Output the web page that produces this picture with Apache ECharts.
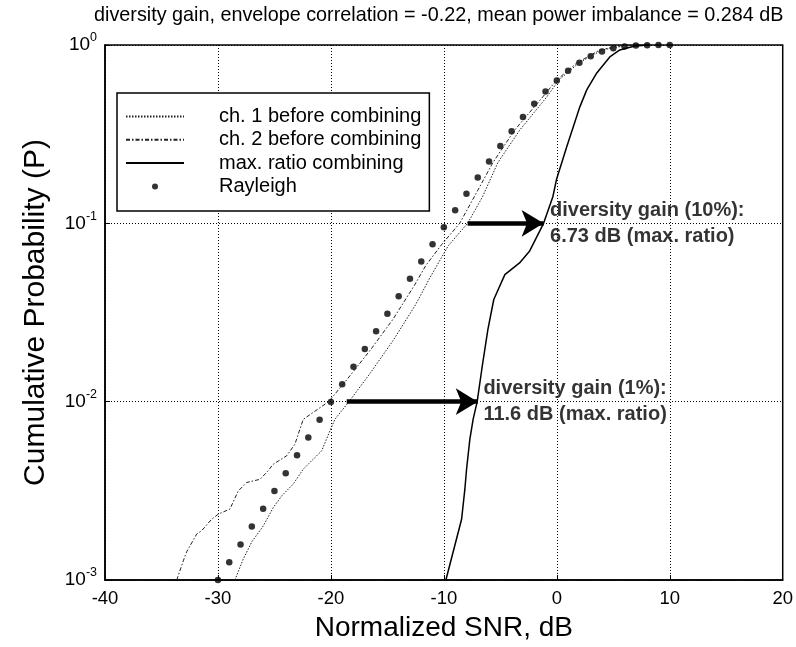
<!DOCTYPE html>
<html><head><meta charset="utf-8">
<script src="https://cdn.jsdelivr.net/npm/echarts@6/dist/echarts.min.js"></script>
<style>html,body{margin:0;padding:0;background:#fff}#c{width:796px;height:647px}</style>
</head><body><div id="c"></div>
<script>
// ---- data ----
const titleText = 'diversity gain, envelope correlation = -0.22, mean power imbalance = 0.284 dB';
const xTicks = [-40, -30, -20, -10, 0, 10, 20];
const yTicks = [0.001, 0.01, 0.1, 1];

const ch1X = [-28.5,-27.76,-27.02,-25.99,-25.1,-24.36,-23.34,-22.45,-21.71,-20.82,-20.09,-19.65,-18.4,-16.5,-14.5,-12.5,-11.2,-9.6,-7.9,-6.6,-5.22,-3.27,-0.88,0.18,1.95,4.0,6.0,7.8];
const ch1P = [0.001,0.00131,0.00163,0.00201,0.00255,0.00296,0.00345,0.00418,0.00466,0.0053,0.00685,0.00796,0.01,0.0145,0.022,0.035,0.05,0.075,0.1,0.14,0.219,0.334,0.512,0.637,0.793,0.938,0.99,1.0];

const ch2X = [-33.65,-33.07,-32.77,-31.88,-31.44,-30.56,-29.97,-28.94,-28.2,-27.46,-26.28,-25.69,-25.1,-23.92,-23.19,-22.45,-20.2,-18.5,-16.5,-14.5,-12.6,-11.6,-10.2,-8.6,-7.2,-5.66,-3.72,-1.24,0.0,1.77,3.8,5.6,7.3];
const ch2P = [0.001,0.00128,0.00144,0.00181,0.00189,0.00219,0.00234,0.0025,0.00316,0.00352,0.00367,0.00401,0.00446,0.00497,0.00577,0.00796,0.01,0.0135,0.0195,0.029,0.045,0.058,0.076,0.1,0.145,0.219,0.334,0.512,0.637,0.793,0.938,0.99,1.0];

const mrcX = [-9.82,-8.43,-8.14,-7.99,-7.7,-7.41,-7.05,-6.64,-6.1,-5.58,-4.6,-3.3,-2.4,-1.17,-0.35,-0.03,0.88,2.04,2.65,3.54,4.69,5.58,6.9,8.2];
const mrcP = [0.001,0.00219,0.00323,0.00418,0.00615,0.00796,0.01,0.0152,0.0254,0.0374,0.0516,0.06,0.07,0.1,0.141,0.176,0.269,0.45,0.56,0.697,0.857,0.938,0.987,1.0];

const rayX = [-30,-29,-28,-27,-26,-25,-24,-23,-22,-21,-20,-19,-18,-17,-16,-15,-14,-13,-12,-11,-10,-9,-8,-7,-6,-5,-4,-3,-2,-1,0,1,2,3,4,5,6,7,8,9,10];
const rayP = [0.001,0.001258,0.001584,0.001993,0.002509,0.003157,0.003973,0.005,0.00629,0.007912,0.00995,0.01251,0.01572,0.01975,0.02481,0.03113,0.03903,0.04888,0.06115,0.07636,0.09516,0.1183,0.1466,0.1809,0.2221,0.2711,0.3284,0.3942,0.4679,0.5481,0.6321,0.7161,0.795,0.864,0.9189,0.9577,0.9813,0.9933,0.9982,0.99965,0.99995];

const seriesNames = ['ch. 1 before combining','ch. 2 before combining','max. ratio combining','Rayleigh'];

// annotations: level, arrow start (dB), gain (dB), text anchor x (dB), texts
const gainLevels = [0.1, 0.01];
const gainStart = [-7.9, -18.6];
const gainValue = [6.73, 11.6];
const gainTextX = [-0.6, -6.5];
const gainText = ['diversity gain (10%):\n6.73 dB (max. ratio)', 'diversity gain (1%):\n11.6 dB (max. ratio)'];

// ---- chart ----
const FONT = "'Liberation Sans', Arial, Helvetica, sans-serif";
const zip = (a, b) => a.map((v, i) => [v, b[i]]);
const chart = echarts.init(document.getElementById('c'), null, {renderer: 'canvas'});

const arrowLines = gainLevels.map((lv, i) => [
  {coord: [gainStart[i], lv]},
  {coord: [gainStart[i] + gainValue[i], lv]}
]);

const hideSym = {opacity: 0};

chart.setOption({
  animation: false,
  backgroundColor: '#fff',
  textStyle: {fontFamily: FONT, color: '#000'},
  title: {
    text: titleText, left: 89, top: 1,
    textStyle: {fontFamily: FONT, fontSize: 19.8, fontWeight: 'normal', color: '#000'}
  },
  grid: {left: 105, right: 13, top: 45, bottom: 66, show: true, borderColor: '#000', borderWidth: 1.5, backgroundColor: 'transparent'},
  legend: {
    data: [
      {name: seriesNames[0], itemStyle: hideSym},
      {name: seriesNames[1], itemStyle: hideSym},
      {name: seriesNames[2], itemStyle: hideSym},
      {name: seriesNames[3], icon: 'path://M0,0M58,14M26,7a3,3 0 1,0 6,0a3,3 0 1,0 -6,0Z'}
    ],
    orient: 'vertical', left: 117, top: 93,
    itemWidth: 58, itemHeight: 14, itemGap: 0.3,
    padding: [12, 8, 13, 8],
    backgroundColor: '#fff', borderColor: '#000', borderWidth: 1.5, borderRadius: 0,
    textStyle: {fontFamily: FONT, fontSize: 20, color: '#000', lineHeight: 23, padding: [0, 0, 0, 30]},
    selectedMode: false
  },
  xAxis: {
    type: 'value', min: -40, max: 20, interval: 10,
    name: 'Normalized SNR, dB', nameLocation: 'middle', nameGap: 34,
    nameTextStyle: {fontFamily: FONT, fontSize: 28, color: '#000'},
    axisLine: {onZero: false, lineStyle: {color: '#000', width: 1.5}},
    axisTick: {inside: true, length: 5, lineStyle: {color: '#000'}},
    axisLabel: {fontFamily: FONT, fontSize: 18.5, color: '#000', margin: 9},
    splitLine: {show: true, lineStyle: {color: '#000', type: [1, 2], width: 1}}
  },
  yAxis: {
    type: 'log', logBase: 10, min: yTicks[0], max: yTicks[yTicks.length - 1],
    name: 'Cumulative Probability (P)', nameLocation: 'middle', nameGap: 54,
    nameTextStyle: {fontFamily: FONT, fontSize: 30, color: '#000'},
    axisLine: {onZero: false, lineStyle: {color: '#000', width: 1.5}},
    axisTick: {inside: true, length: 5, lineStyle: {color: '#000'}},
    axisLabel: {
      margin: 8, color: '#000',
      formatter: v => '{b|10}{s|' + Math.round(Math.log10(v)) + '}',
      rich: {
        b: {fontFamily: FONT, fontSize: 19, color: '#000'},
        s: {fontFamily: FONT, fontSize: 12.5, color: '#000', padding: [0, 0, 14, 0]}
      }
    },
    minorTick: {show: false},
    splitLine: {show: true, lineStyle: {color: '#000', type: [1, 2], width: 1}}
  },
  series: [
    {name: seriesNames[0], type: 'line', data: zip(ch1X, ch1P), showSymbol: false, symbol: 'none',
     lineStyle: {color: '#222', width: 1, type: [1.5, 1.5]}, itemStyle: {color: '#222'}},
    {name: seriesNames[1], type: 'line', data: zip(ch2X, ch2P), showSymbol: false, symbol: 'none',
     lineStyle: {color: '#222', width: 1, type: [4, 2, 1.5, 2]}, itemStyle: {color: '#222'}},
    {name: seriesNames[2], type: 'line', data: zip(mrcX, mrcP), showSymbol: false, symbol: 'none',
     lineStyle: {color: '#000', width: 1.5, type: 'solid'}, itemStyle: {color: '#000'}},
    {name: seriesNames[3], type: 'scatter', data: zip(rayX, rayP), symbol: 'circle', symbolSize: 6.5,
     itemStyle: {color: '#000'}, clip: false},
    {name: 'arrows', type: 'line', data: [], silent: true,
     markLine: {
       silent: true, animation: false, symbol: ['none', 'arrow'], symbolSize: [20, 22],
       label: {show: false}, emphasis: {disabled: true},
       lineStyle: {color: '#000', width: 4.5, type: 'solid'},
       data: arrowLines
     }},
    {name: 'notes', type: 'scatter', symbolSize: 0, silent: true,
     data: gainText.map((t, i) => ({value: [gainTextX[i], gainLevels[i]], name: t})),
     label: {show: true, position: 'right', distance: 0, formatter: p => p.name,
       fontFamily: FONT, fontSize: 20, fontWeight: 'bold', color: '#000', lineHeight: 26, align: 'left', verticalAlign: 'middle'}}
  ]
});
</script></body></html>
